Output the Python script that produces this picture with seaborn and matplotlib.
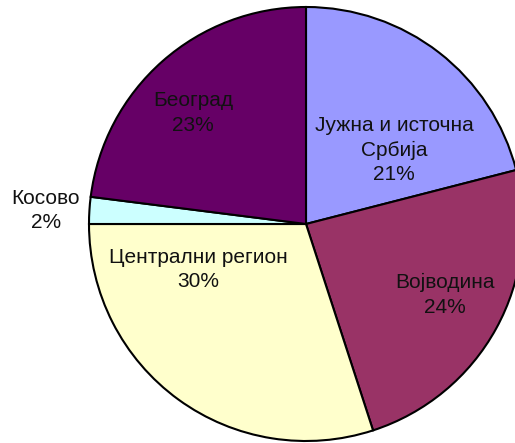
import numpy as np
import matplotlib
matplotlib.use("Agg")
import matplotlib.pyplot as plt
import seaborn as sns

# data (clockwise from 12 o'clock)
regions = ["Јужна и источна\nСрбија", "Војводина", "Централни регион", "Косово", "Београд"]
shares = [21, 24, 30, 2, 23]
colors = ["#9999ff", "#993366", "#ffffcc", "#ccffff", "#660066"]

# label placement: (radial fraction of radius, angle in degrees)
label_pos = [(0.53, 40), (0.72, -27), (0.54, -157), (1.20, 177), (0.73, 135.5)]

sns.set_theme(style="white")
plt.rcParams["font.family"] = ["Liberation Sans", "DejaVu Sans"]

W, H = 515, 443
fig = plt.figure(figsize=(W / 100, H / 100), dpi=100)
ax = fig.add_axes([0, 0, 1, 1])

cx, cy, R = 306, H - 224, 217
pal = sns.color_palette(colors)
ax.pie(shares, colors=pal, startangle=90, counterclock=False,
       center=(cx, cy), radius=R, frame=True,
       wedgeprops=dict(edgecolor="black", linewidth=1.5))
ax.set_xlim(0, W)
ax.set_ylim(0, H)
ax.set_aspect("equal")
ax.axis("off")

for name, val, (frac, ang) in zip(regions, shares, label_pos):
    x = cx + frac * R * np.cos(np.radians(ang))
    y = cy + frac * R * np.sin(np.radians(ang))
    ax.text(x, y, f"{name}\n{val}%", ha="center", va="center",
            fontsize=15, color="#111111", linespacing=1.35)

fig.savefig("out.png", dpi=100)
